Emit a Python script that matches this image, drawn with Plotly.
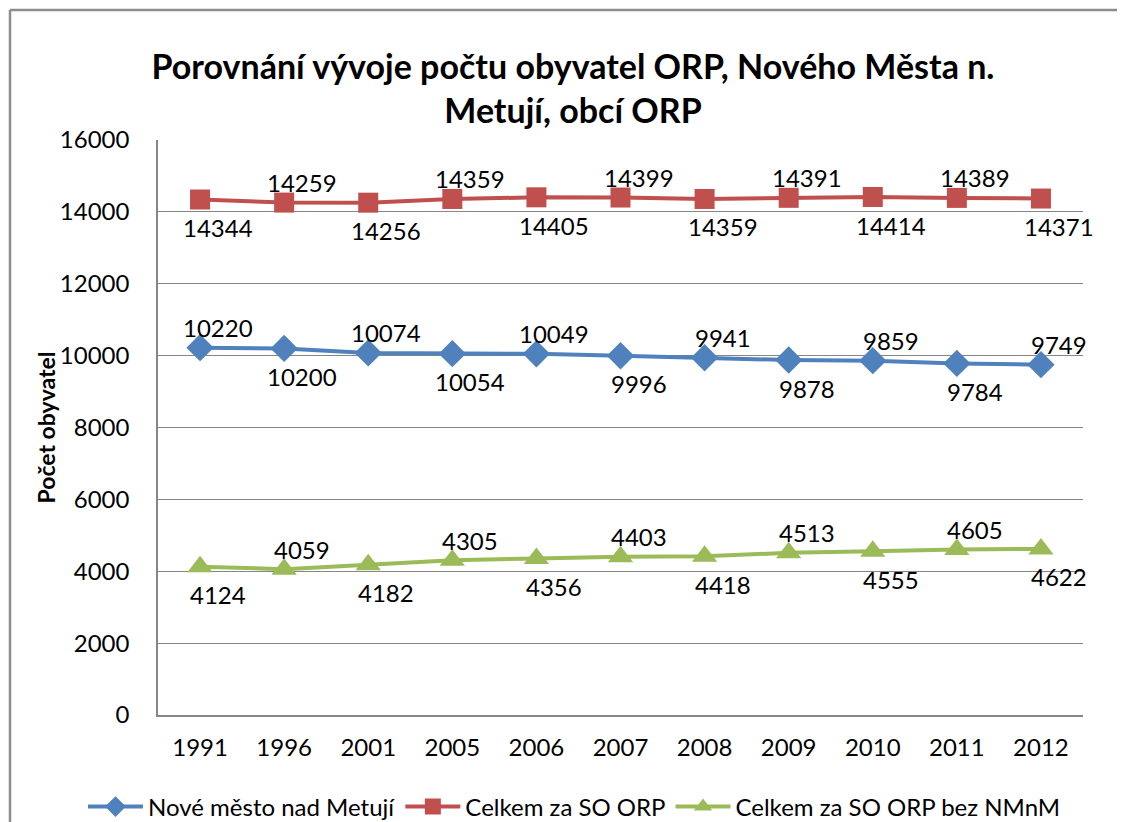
import plotly.graph_objects as go

years = ["1991", "1996", "2001", "2005", "2006", "2007", "2008", "2009", "2010", "2011", "2012"]
nove_mesto = [10220, 10200, 10074, 10054, 10049, 9996, 9941, 9878, 9859, 9784, 9749]
celkem = [14344, 14259, 14256, 14359, 14405, 14399, 14359, 14391, 14414, 14389, 14371]
bez_nmnm = [4124, 4059, 4182, 4305, 4356, 4403, 4418, 4513, 4555, 4605, 4622]

names = ["Nové město nad Metují", "Celkem za SO ORP", "Celkem za SO ORP bez NMnM"]
colors = ["#4F81BD", "#C0504D", "#9BBB59"]
symbols = ["diamond", "square", "triangle-up"]
msizes = [21, 20, 22]
first_label_above = [True, False, False]

# page body has an 8px margin (figure drawn at offset 8,8 in the window)
W, H = 1125, 822
L, R, T, B = 150, 1075, 132, 707
pw, ph = R - L, B - T
FONT = "Lato"

fig = go.Figure()
series = [nove_mesto, celkem, bez_nmnm]
for vals, name, c, s, ms in zip(series, names, colors, symbols, msizes):
    fig.add_trace(go.Scatter(
        x=years, y=vals, name=name, mode="lines+markers",
        line=dict(color=c, width=4),
        marker=dict(symbol=s, size=ms, color=c),
    ))

annotations = []
for vals, ft in zip(series, first_label_above):
    for i, v in enumerate(vals):
        above = (i % 2 == 0) == ft
        annotations.append(dict(
            x=i, y=v, xref="x", yref="y", text=str(v), showarrow=False,
            xanchor="center", yanchor="middle",
            xshift=18, yshift=20 if above else -28,
            font=dict(family=FONT, size=24, color="#000000"),
        ))

annotations.append(dict(
    x=(37 - L) / pw, y=0.5, xref="paper", yref="paper", text="<b>Počet obyvatel</b>",
    textangle=-90, showarrow=False, xanchor="center", yanchor="middle",
    font=dict(family=FONT, size=23, color="#000000"),
))

fig.update_layout(
    width=W, height=H,
    margin=dict(l=L, r=W - R, t=T, b=H - B, autoexpand=False),
    paper_bgcolor="white", plot_bgcolor="white",
    font=dict(family=FONT, color="#000000"),
    title=dict(
        text="Porovnání vývoje počtu obyvatel ORP, Nového Města n.<br>Metují, obcí ORP",
        x=565 / W, xanchor="center", y=1 - 70.5 / H, yanchor="middle",
        font=dict(family=FONT, size=34, color="#000000", weight="bold"),
    ),
    xaxis=dict(
        type="category", range=[-0.5, len(years) - 0.5], showgrid=False, zeroline=False,
        showline=True, linecolor="#868686", linewidth=1.5,
        ticks="", tickfont=dict(family=FONT, size=24, color="#000000"),
        ticklabelstandoff=10,
    ),
    yaxis=dict(
        range=[0, 16000], dtick=2000, tick0=0, tickformat="d",
        showgrid=True, gridcolor="#868686", gridwidth=1.2,
        zeroline=False, showline=True, linecolor="#868686", linewidth=1.5,
        ticks="", tickfont=dict(family=FONT, size=24, color="#000000"),
        ticklabelstandoff=22,
    ),
    legend=dict(
        orientation="h", x=(75 - L) / pw, xanchor="left",
        y=-(799 - B) / ph, yanchor="middle",
        font=dict(family=FONT, size=24, color="#000000"),
        itemwidth=55, tracegroupgap=0,
    ),
    showlegend=True,
    annotations=annotations,
)

# outer chart border (top and left edges visible in the frame)
fig.add_shape(type="line", xref="paper", yref="paper",
              x0=(2 - L) / pw, x1=(W + 20 - L) / pw, y0=(B - 2) / ph, y1=(B - 2) / ph,
              line=dict(color="#8C8C8C", width=2.5), layer="below")
fig.add_shape(type="line", xref="paper", yref="paper",
              x0=(2 - L) / pw, x1=(2 - L) / pw, y0=(B - 2) / ph, y1=-(H + 20 - B) / ph,
              line=dict(color="#8C8C8C", width=2.5), layer="below")

hide_scroll = (
    "var s=document.createElement('style');"
    "s.textContent='html,body{overflow:hidden !important;scrollbar-width:none;}"
    "::-webkit-scrollbar{display:none;width:0;height:0;}';"
    "document.head.appendChild(s);"
)
fig.write_html("out.html", post_script=hide_scroll)
